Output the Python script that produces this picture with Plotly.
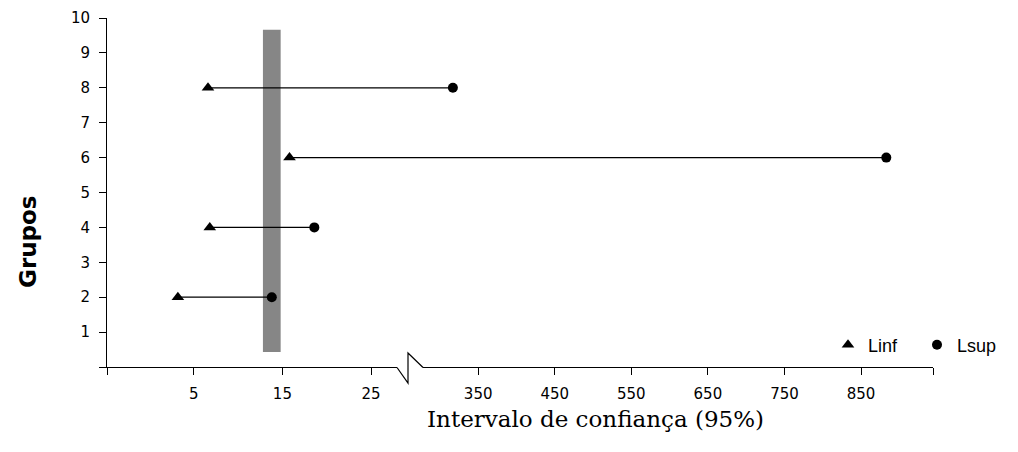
import plotly.graph_objects as go

# Confidence intervals (95%) per group
grupos = [2, 4, 6, 8]
linf = [3.2, 6.8, 15.8, 6.6]
lsup = [13.8, 18.6, 883, 317]

# Reference band (grey bar)
ref_x = [12.8, 14.8]
ref_y = [0.43, 9.66]

left_ticks = [5, 15, 25]
right_ticks = [350, 450, 550, 650, 750, 850]
y_ticks = list(range(1, 11))

# Broken x axis: two linear segments
XL = [-4.8, 29.4]
XR = [261, 944]

W, H = 1018, 452
ML, MR, MT, MB = 107, 85, 18, 85
PW, PH = W - ML - MR, H - MT - MB
split = (410 - ML) / PW


def px(xp):
    return (xp - ML) / PW


def py(yp):
    return (H - MB - yp) / PH


fig = go.Figure()

# Interval lines
line_style = dict(color="black", width=1.3)
for g, lo, hi in zip(grupos, linf, lsup):
    if hi <= XL[1]:
        fig.add_trace(go.Scatter(x=[lo, hi], y=[g, g], mode="lines", xaxis="x", yaxis="y",
                                 line=line_style, showlegend=False, hoverinfo="skip"))
    else:
        fig.add_trace(go.Scatter(x=[lo, XL[1]], y=[g, g], mode="lines", xaxis="x", yaxis="y",
                                 line=line_style, showlegend=False, hoverinfo="skip"))
        fig.add_trace(go.Scatter(x=[XR[0], hi], y=[g, g], mode="lines", xaxis="x2", yaxis="y",
                                 line=line_style, showlegend=False, hoverinfo="skip"))

# Lower limits
fig.add_trace(go.Scatter(x=linf, y=grupos, mode="markers", name="Linf", xaxis="x", yaxis="y",
                         marker=dict(symbol="triangle-up", size=11, color="black")))

# Upper limits, split across the two axis segments
sl = [(g, v) for g, v in zip(grupos, lsup) if v <= XL[1]]
sr = [(g, v) for g, v in zip(grupos, lsup) if v > XL[1]]
fig.add_trace(go.Scatter(x=[v for g, v in sl], y=[g for g, v in sl], mode="markers", name="Lsup",
                         xaxis="x", yaxis="y", marker=dict(symbol="circle", size=10, color="black")))
fig.add_trace(go.Scatter(x=[v for g, v in sr], y=[g for g, v in sr], mode="markers", name="Lsup",
                         xaxis="x2", yaxis="y", showlegend=False,
                         marker=dict(symbol="circle", size=10, color="black")))

shapes = [
    dict(type="rect", xref="x", yref="y", x0=ref_x[0], x1=ref_x[1], y0=ref_y[0], y1=ref_y[1],
         fillcolor="#868686", line=dict(width=0), layer="below"),
    # gap in axis line at the break
    dict(type="rect", xref="paper", yref="paper", x0=px(397), x1=px(423), y0=py(370), y1=py(365),
         fillcolor="white", line=dict(width=0), layer="above"),
    # break mark
    dict(type="path", xref="paper", yref="paper",
         path=f"M {px(397)},{py(367.5)} L {px(408)},{py(383)} L {px(408)},{py(353)} L {px(423)},{py(367.5)}",
         line=dict(color="black", width=1.2), layer="above"),
]

tick_font = dict(family="DejaVu Sans, Verdana", size=15, color="black")
axis_common = dict(showline=True, linecolor="black", linewidth=1, ticks="outside", ticklen=7,
                   tickcolor="black", tickwidth=1, showgrid=False, zeroline=False,
                   tickfont=tick_font)

fig.update_layout(
    width=W, height=H,
    margin=dict(l=ML, r=MR, t=MT, b=MB, autoexpand=False),
    plot_bgcolor="white", paper_bgcolor="white",
    xaxis=dict(domain=[0, split], range=XL, tickvals=[XL[0]] + left_ticks,
               ticktext=[""] + [str(t) for t in left_ticks], anchor="y", ticklabelstandoff=6,
               **axis_common),
    xaxis2=dict(domain=[split, 1], range=XR, tickvals=right_ticks + [XR[1]],
                ticktext=[str(t) for t in right_ticks] + [""], anchor="y", ticklabelstandoff=6,
                **axis_common),
    yaxis=dict(range=[0, 10], tickvals=[0] + y_ticks, ticktext=[""] + [str(t) for t in y_ticks],
               ticklabelstandoff=6, **axis_common),
    shapes=shapes,
    annotations=[
        dict(text="Intervalo de confiança (95%)", xref="paper", yref="paper",
             x=px(595), y=py(419), xanchor="center", yanchor="middle", showarrow=False,
             font=dict(family="DejaVu Serif, Liberation Serif", size=23, color="black")),
        dict(text="<b>Grupos</b>", xref="paper", yref="paper", textangle=-90,
             x=px(28), y=py(242), xanchor="center", yanchor="middle", showarrow=False,
             font=dict(family="DejaVu Sans, Liberation Sans", size=23, color="black")),
    ],
    legend=dict(orientation="h", x=px(828), y=py(345), xanchor="left", yanchor="middle",
                bgcolor="rgba(0,0,0,0)", font=dict(family="Liberation Sans, Arial", size=18, color="black"),
                itemwidth=30, entrywidth=44, entrywidthmode="pixels"),
    showlegend=True,
)

fig.write_html("out.html")
